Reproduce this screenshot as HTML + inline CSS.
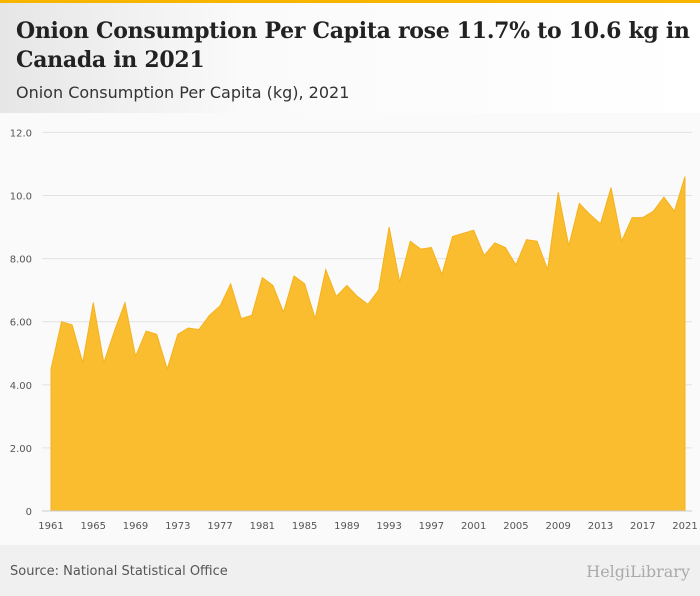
<!DOCTYPE html>
<html><head><meta charset="utf-8"><style>
body{margin:0;width:700px;height:596px;overflow:hidden;background:#f0f0f0;font-family:"DejaVu Sans",sans-serif}
#hdr{position:absolute;left:0;top:0;width:700px;height:113px;background:linear-gradient(90deg,#e6e6e6 0%,#fafafa 35%,#fff 100%);border-top:3px solid #f7b500;box-sizing:border-box}
#title{position:absolute;left:16px;top:14px;font:bold 22px "DejaVu Serif",serif;color:#222;line-height:29px;width:684px;letter-spacing:-0.3px}
#sub{position:absolute;left:16px;top:80px;font-size:16px;color:#333}
#plot{position:absolute;left:0;top:113px}
#foot{position:absolute;left:10px;top:564px;font-size:13px;color:#555}
#logo{position:absolute;right:10px;top:562px;font:16px "DejaVu Serif",serif;color:#aaa}
</style></head><body>
<div id="hdr">
<div id="title">Onion Consumption Per Capita rose 11.7% to 10.6 kg in Canada in 2021</div>
<div id="sub">Onion Consumption Per Capita (kg), 2021</div>
</div>
<svg id="plot" width="700" height="432"></svg>
<div id="foot">Source: National Statistical Office</div>
<div id="logo">HelgiLibrary</div>
<script>
const years=[];for(let y=1961;y<=2021;y++)years.push(y);
const values=[4.5,6.0,5.9,4.7,6.6,4.7,5.7,6.6,4.9,5.7,5.6,4.5,5.6,5.8,5.75,6.2,6.5,7.2,6.1,6.2,7.4,7.15,6.3,7.45,7.2,6.1,7.65,6.8,7.15,6.8,6.55,7.0,9.0,7.25,8.55,8.3,8.35,7.5,8.7,8.8,8.9,8.1,8.5,8.35,7.8,8.6,8.55,7.65,10.1,8.4,9.75,9.4,9.1,10.25,8.55,9.3,9.3,9.5,9.95,9.5,10.6];
const yTicks=[0,2,4,6,8,10,12];
const yTickLabels=["0","2.00","4.00","6.00","8.00","10.0","12.0"];
const xTickYears=[1961,1965,1969,1973,1977,1981,1985,1989,1993,1997,2001,2005,2009,2013,2017,2021];
const svg=document.getElementById('plot');const NS='http://www.w3.org/2000/svg';
const OY=113;
const x=y=>51+(y-1961)*(685-51)/60;
const yS=v=>511-OY-v*31.55;
function mk(t,a){const e=document.createElementNS(NS,t);for(const k in a)e.setAttribute(k,a[k]);svg.appendChild(e);return e;}
mk('rect',{x:0,y:0,width:700,height:432,fill:'#fafafa'});
yTicks.forEach((v,i)=>{
const l=mk('line',{x1:42,x2:692,y1:yS(v),y2:yS(v),stroke:'#e2e2e2','stroke-width':1});


const t=mk('text',{x:32,y:yS(v)+4,'text-anchor':'end','font-size':10,fill:'#555','font-family':'DejaVu Sans'});
t.textContent=yTickLabels[i];


});
let d='M'+x(years[0])+','+yS(0);
years.forEach((yr,i)=>{d+=' L'+x(yr)+','+yS(values[i]);});
d+=' L'+x(years[years.length-1])+','+yS(0)+' Z';
const a=mk('path',{d:d,fill:'#f9bd2f',stroke:'#f5b21c','stroke-width':1});


mk('line',{x1:42,x2:692,y1:yS(0),y2:yS(0),stroke:'#ccc'});
xTickYears.forEach(yr=>{
const t=mk('text',{x:x(yr),y:416,'text-anchor':'middle','font-size':10,fill:'#555','font-family':'DejaVu Sans'});
t.textContent=yr;


});
</script>
</body></html>
